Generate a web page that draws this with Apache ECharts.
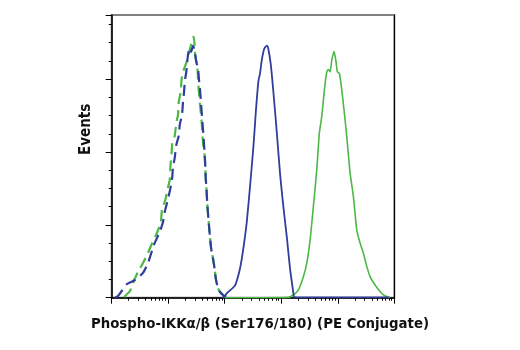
<!DOCTYPE html>
<html>
<head>
<meta charset="utf-8">
<script src="https://cdn.jsdelivr.net/npm/echarts@6/dist/echarts.min.js"></script>
<style>html,body{margin:0;padding:0;background:#fff}#c{width:520px;height:350px}</style>
</head>
<body>
<div id="c"></div>
<script>
// x values in decades (log10 units), y values in events
var blueDashedX = [0.058,0.112,0.271,0.412,0.554,0.642,0.701,0.761,0.850,0.908,0.938,0.984,1.032,1.067,1.085,1.115,1.143,1.186,1.204,1.244,1.262,1.280,1.297,1.320,1.350,1.381,1.404,1.439,1.465,1.497,1.527,1.545,1.563,1.589,1.616,1.634,1.651,1.664,1.678,1.692,1.713,1.731,1.758,1.784,1.811,1.846,1.881,1.917,1.970,2.023];
var blueDashedY = [0.3,2.3,18.8,24.3,34,47.7,61.4,75.1,90.2,104,117.7,131.4,147.9,161.7,179.5,191.9,209.7,222.1,237.2,250.9,268.8,282.6,299,310,333.4,343,337.5,345.7,340.2,323.8,314.2,299.1,285.3,257.8,230.4,209.8,189.2,164.4,147.9,127.3,106.7,90.2,68.3,57.3,44.9,24.3,13.3,7.8,3.7,1.0];

var greenDashedX = [0.218,0.324,0.377,0.465,0.554,0.642,0.701,0.807,0.867,0.890,0.949,0.984,1.027,1.041,1.055,1.073,1.115,1.143,1.173,1.186,1.221,1.235,1.262,1.320,1.350,1.404,1.451,1.480,1.515,1.527,1.540,1.563,1.589,1.616,1.646,1.664,1.678,1.692,1.713,1.731,1.758,1.784,1.811,1.846,1.881,1.917,1.970,2.023];
var greenDashedY = [1.0,9.2,20.2,35.3,47.7,61.4,72.4,90.2,102.6,120.5,134.2,147.9,161.7,182.3,193.3,212.5,222.1,240,251,268.8,282.6,299,310,322.4,330.6,347.1,358.5,331,316.9,301.8,285.3,264.7,244.1,212.5,193.3,161.7,147.9,127.3,106.7,90.2,68.3,57.3,44.9,24.3,13.3,7.8,3.7,1.0];

var blueSolidX = [1.95,2.0,2.035,2.18,2.27,2.33,2.39,2.45,2.51,2.55,2.595,2.625,2.655,2.70,2.745,2.77,2.815,2.86,2.92,2.98,3.04,3.10,3.155,3.215,3.225,3.3,4.0,4.9];
var blueSolidY = [0,2,6,16.5,40,68,104,155,210,255,297,308,326,342,346,342,320,283,228,169,123,82,40,6,1.5,0.5,0.5,0.5];

var greenSolidX = [2.0,2.6,3.126,3.214,3.303,3.391,3.451,3.51,3.568,3.628,3.674,3.717,3.763,3.805,3.834,3.864,3.894,3.935,3.965,3.993,4.028,4.071,4.117,4.159,4.218,4.276,4.336,4.394,4.453,4.513,4.572,4.66,4.75,4.837,4.925];
var greenSolidY = [0,0,0.5,3.7,10.6,28.8,47.2,79,125,175,226,249,285,310,313,310,326,338,326,310,308,285,253,221,171,139,93,75,61,43,29,17.4,8.2,2.3,0.5];

var xMinorTicks = [];
for (var d = 0; d < 5; d++) { for (var m = 2; m <= 9; m++) { xMinorTicks.push(d + Math.log10(m)); } }

var xName = 'Phospho-IKKα/β (Ser176/180) (PE Conjugate)';
var yName = 'Events';

function pairs(xs, ys) { return xs.map(function (x, i) { return [x, ys[i]]; }); }

var BLUE = '#2f3e9b';
var GREEN = '#4cb847';
var FONT = "'Liberation Sans Narrow', 'DejaVu Sans Condensed', 'Liberation Sans', sans-serif";
var G = {left: 111.7, top: 15, right: 125.7, bottom: 52.3};

var chart = echarts.init(document.getElementById('c'), null, {renderer: 'canvas'});
chart.setOption({
  animation: false,
  grid: [
    {left: G.left, top: G.top, right: G.right, bottom: G.bottom, show: true, borderColor: '#808080', borderWidth: 2, backgroundColor: 'transparent'},
    {left: G.left, top: G.top, right: G.right, bottom: G.bottom, show: false}
  ],
  xAxis: [{
    gridIndex: 0, type: 'value', position: 'bottom', min: 0, max: 5, interval: 1,
    axisLine: {show: true, lineStyle: {color: '#000', width: 1.5}},
    axisTick: {show: true, length: 6, lineStyle: {color: '#000', width: 1}},
    axisLabel: {show: false}, splitLine: {show: false},
    name: xName, nameLocation: 'middle', nameGap: 19,
    nameTextStyle: {fontFamily: FONT, fontWeight: 'bold', fontSize: 14.8, color: '#111', padding: [0, 0, 0, 14]}
  }, {
    gridIndex: 1, type: 'value', position: 'bottom', min: 0, max: 5,
    axisLine: {show: false},
    axisTick: {show: true, length: 3, lineStyle: {color: '#000', width: 1}, customValues: xMinorTicks},
    axisLabel: {show: false}, splitLine: {show: false}
  }],
  yAxis: [{
    gridIndex: 0, type: 'value', position: 'left', min: 0, max: 388, interval: 100,
    axisLine: {show: true, lineStyle: {color: '#000', width: 1.5}},
    axisTick: {show: true, length: 6, lineStyle: {color: '#000', width: 1}},
    axisLabel: {show: false}, splitLine: {show: false},
    name: yName, nameLocation: 'middle', nameGap: 18,
    nameTextStyle: {fontFamily: FONT, fontWeight: 'bold', fontSize: 15, color: '#111', padding: [0, 0, 0, 54]}
  }, {
    gridIndex: 1, type: 'value', position: 'left', min: 0, max: 388, interval: 25,
    axisLine: {show: false},
    axisTick: {show: true, length: 3, lineStyle: {color: '#000', width: 1}},
    axisLabel: {show: false}, splitLine: {show: false}
  }, {
    gridIndex: 1, type: 'value', position: 'right', min: 0, max: 388,
    axisLine: {show: true, lineStyle: {color: '#000', width: 1}},
    axisTick: {show: false}, axisLabel: {show: false}, splitLine: {show: false}
  }],
  series: [
    {type: 'line', data: pairs(greenDashedX, greenDashedY), showSymbol: false, smooth: 0.2,
     lineStyle: {color: GREEN, width: 2.2, type: [11, 6]}},
    {type: 'line', data: pairs(blueDashedX, blueDashedY), showSymbol: false, smooth: 0.2,
     lineStyle: {color: BLUE, width: 2.2, type: [11, 6]}},
    {type: 'line', data: pairs(greenSolidX, greenSolidY), showSymbol: false, smooth: 0.2,
     lineStyle: {color: GREEN, width: 1.6}},
    {type: 'line', data: pairs(blueSolidX, blueSolidY), showSymbol: false, smooth: 0.2,
     lineStyle: {color: BLUE, width: 1.8}}
  ]
});
</script>
</body>
</html>
